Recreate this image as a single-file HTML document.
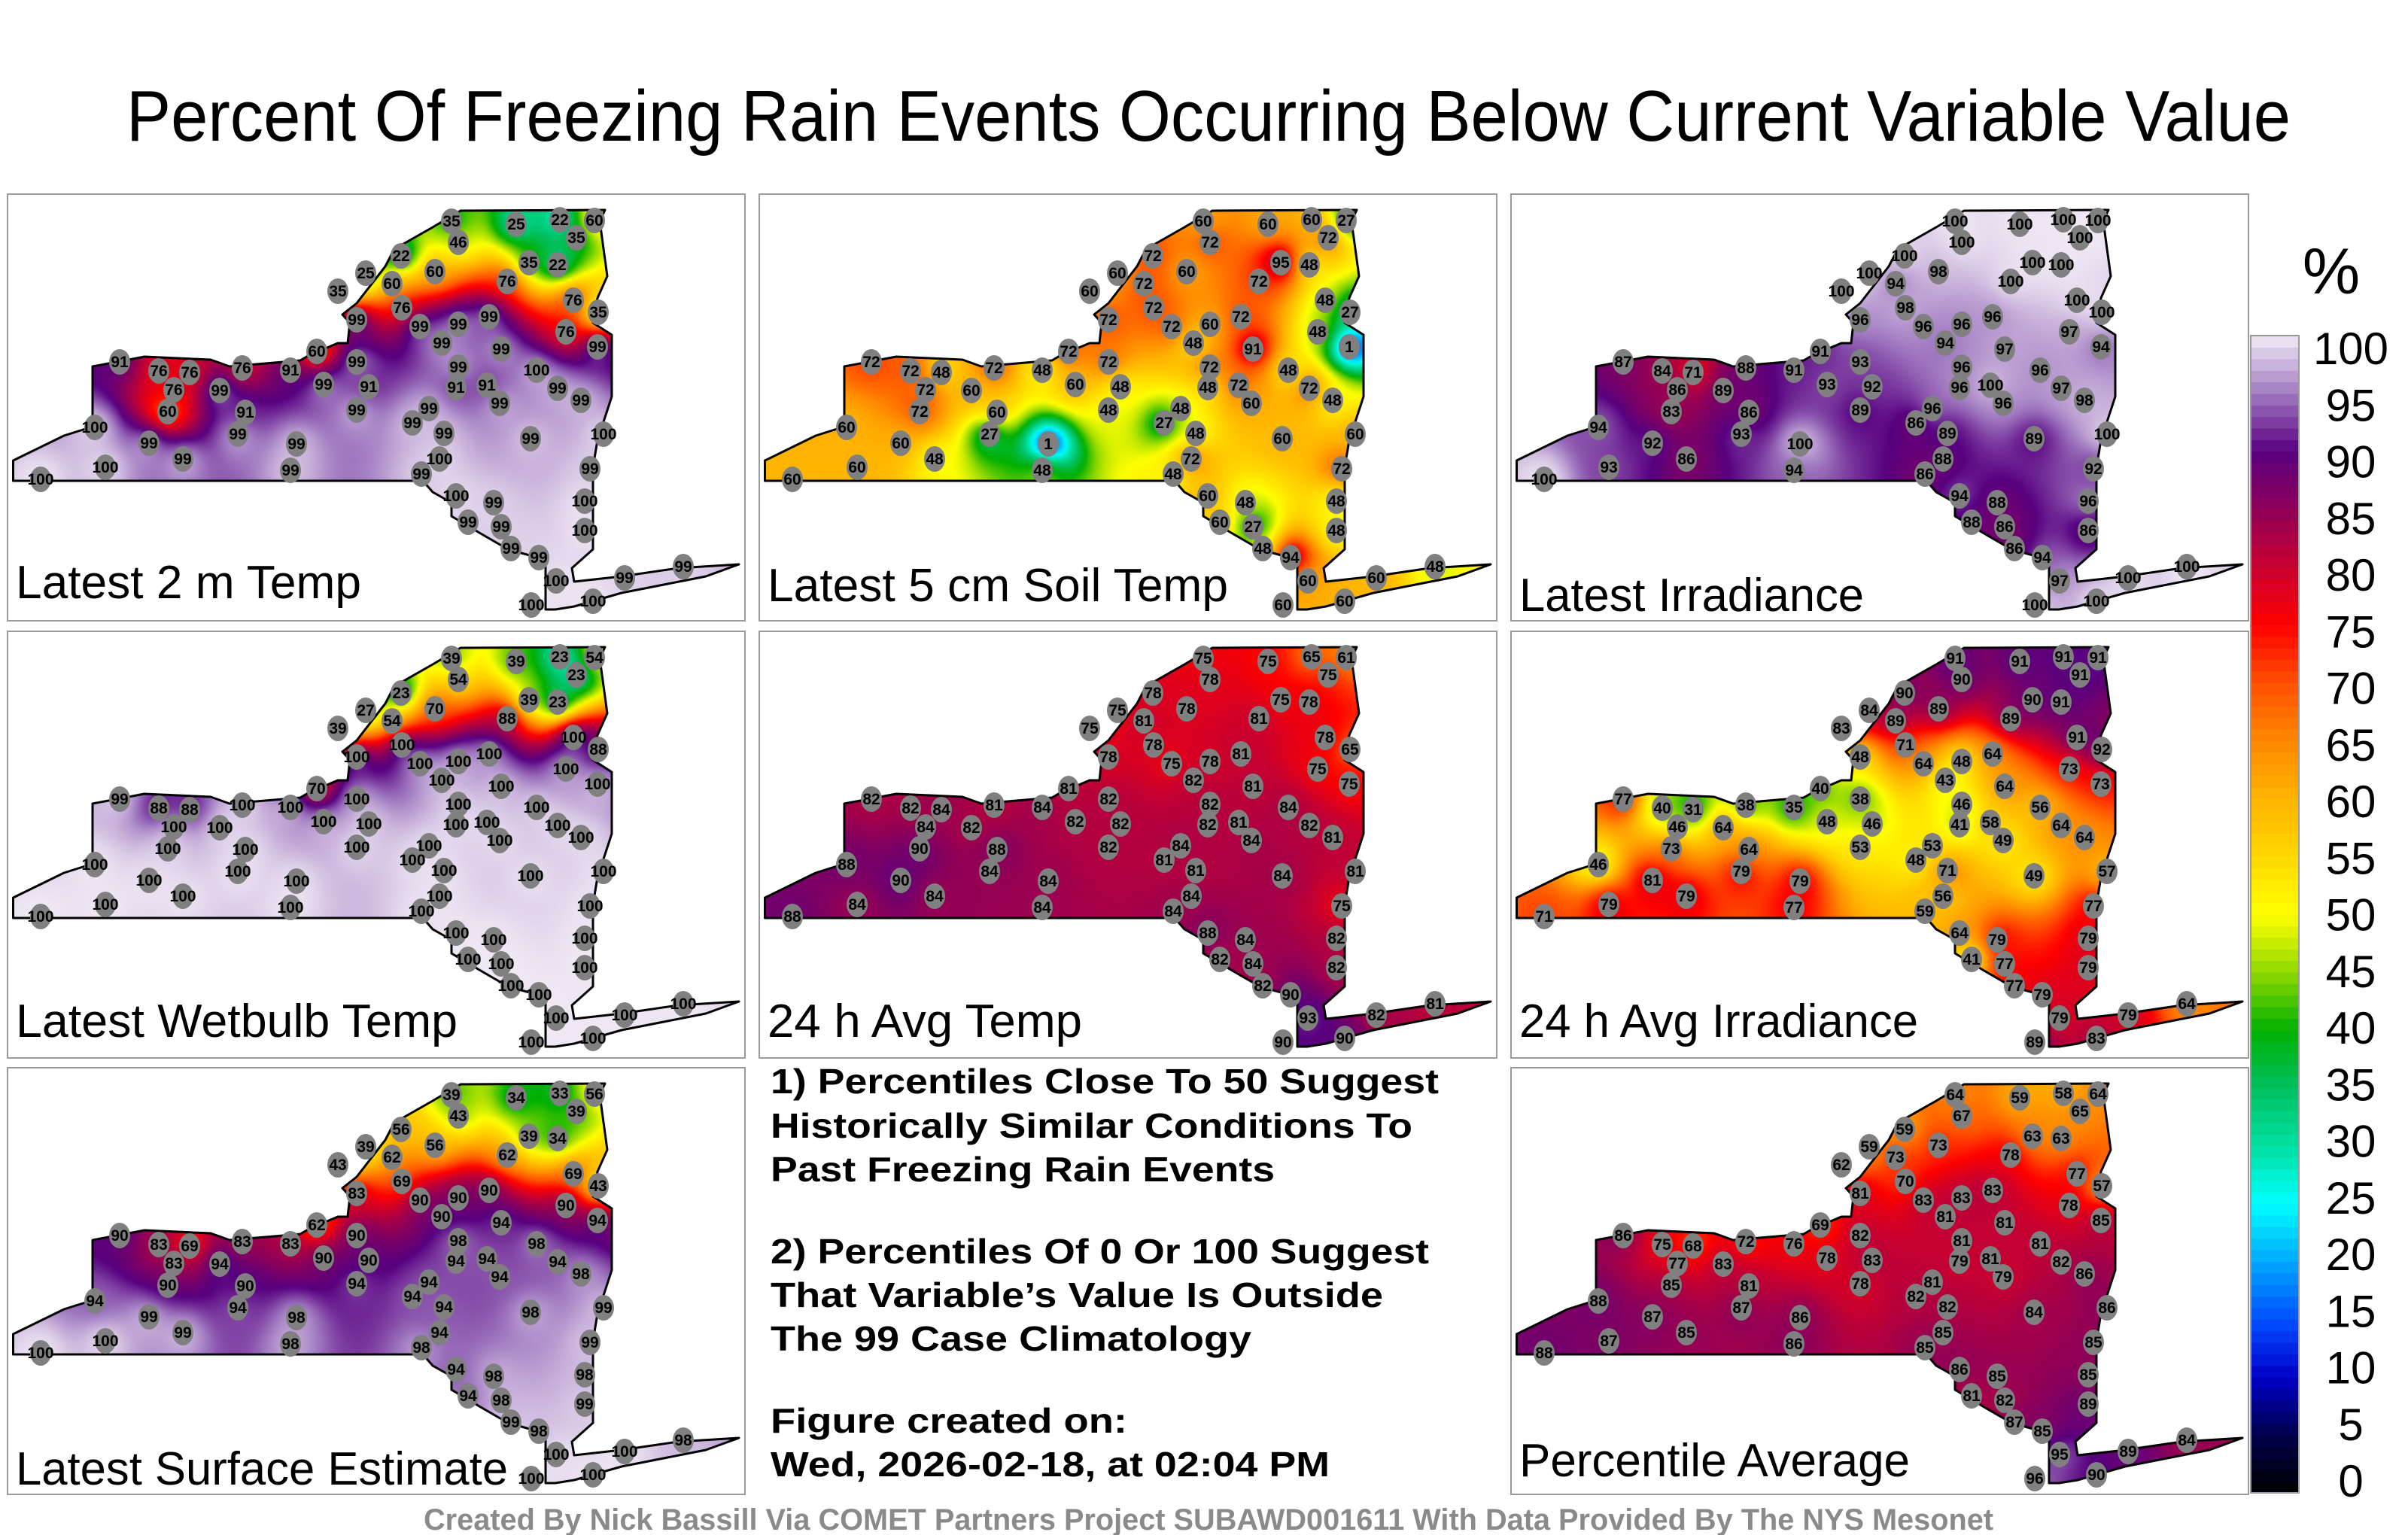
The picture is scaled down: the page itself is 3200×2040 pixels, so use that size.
<!DOCTYPE html>
<html><head><meta charset="utf-8">
<style>
html,body{margin:0;padding:0;background:#fff;}
body{width:3200px;height:2040px;position:relative;overflow:hidden;font-family:"Liberation Sans",sans-serif;}
canvas{position:absolute;}
#ov{position:absolute;left:0;top:0;}
</style></head>
<body>
<svg id="ov" width="3200" height="2040" viewBox="0 0 3200 2040">
<text x="1606" y="187" font-size="96" text-anchor="middle" textLength="2876" lengthAdjust="spacingAndGlyphs" font-family="Liberation Sans, sans-serif">Percent Of Freezing Rain Events Occurring Below Current Variable Value</text>
<g id="panels"></g>
<g font-family="Liberation Sans, sans-serif" font-weight="bold" font-size="46">
<text x="1024" y="1453" textLength="888" lengthAdjust="spacingAndGlyphs">1) Percentiles Close To 50 Suggest</text>
<text x="1024" y="1512" textLength="853" lengthAdjust="spacingAndGlyphs">Historically Similar Conditions To</text>
<text x="1024" y="1570" textLength="670" lengthAdjust="spacingAndGlyphs">Past Freezing Rain Events</text>
<text x="1024" y="1679" textLength="875" lengthAdjust="spacingAndGlyphs">2) Percentiles Of 0 Or 100 Suggest</text>
<text x="1024" y="1737" textLength="814" lengthAdjust="spacingAndGlyphs">That Variable’s Value Is Outside</text>
<text x="1024" y="1795" textLength="639" lengthAdjust="spacingAndGlyphs">The 99 Case Climatology</text>
<text x="1024" y="1904" textLength="474" lengthAdjust="spacingAndGlyphs">Figure created on:</text>
<text x="1024" y="1962" textLength="743" lengthAdjust="spacingAndGlyphs">Wed, 2026-02-18, at 02:04 PM</text>
</g>
<g id="cbar"></g>
<text x="3098" y="390" font-size="86" text-anchor="middle" font-family="Liberation Sans, sans-serif">%</text>
<text x="1606" y="2033" font-size="40" font-weight="bold" fill="#8a8a8a" text-anchor="middle" textLength="2086" lengthAdjust="spacingAndGlyphs" font-family="Liberation Sans, sans-serif">Created By Nick Bassill Via COMET Partners Project SUBAWD001611 With Data Provided By The NYS Mesonet</text>
</svg>
<script>
// station positions (panel-local coordinates of the map frame)
const stationX=[590,676,734,780,599,756,523,568,693,731,476,439,511,664,752,785,524,464,548,599,640,742,577,656,784,411,464,599,703,149,201,242,312,376,221,282,420,480,596,637,731,213,316,464,560,654,762,116,538,188,306,384,580,695,792,233,574,130,44,376,550,774,596,646,767,612,656,767,669,706,729,820,898,778,696];
const stationY=[36,40,34,35,64,58,82,103,91,94,105,129,119,116,141,157,151,167,176,173,163,183,198,206,203,209,223,230,234,223,235,237,231,234,260,261,253,256,257,254,258,289,290,287,285,278,274,310,304,331,319,332,318,325,319,352,352,363,379,367,372,365,401,410,408,436,442,447,471,483,514,510,495,541,546];
const valsTemp2m=[35,25,22,60,46,35,22,60,35,22,25,35,60,76,76,35,76,99,99,99,99,76,99,99,99,60,99,99,100,91,76,76,76,91,76,99,99,91,91,91,99,60,91,99,99,99,99,100,99,99,99,99,99,99,100,99,100,100,100,99,99,99,100,99,100,99,99,100,99,99,100,99,99,100,100];
const valsSoil=[60,60,60,27,72,72,72,60,95,48,60,60,72,72,48,27,72,72,72,60,72,48,48,91,1,72,72,72,48,72,72,48,72,48,72,60,60,48,48,72,72,72,60,48,48,60,48,60,27,60,27,1,48,60,60,48,72,60,60,48,48,72,60,48,48,60,27,48,48,94,60,60,48,60,60];
const valsIrr=[100,100,100,100,100,100,100,98,100,100,100,100,94,100,100,100,98,96,96,96,96,97,94,97,94,91,93,96,96,87,84,71,88,91,86,89,93,92,96,100,97,83,86,89,96,96,98,94,86,92,93,100,89,89,100,86,88,93,100,94,86,92,94,88,96,88,86,86,86,94,97,100,100,100,100];
const valsWetbulb=[39,39,23,54,54,23,23,70,39,23,27,39,54,88,100,88,100,100,100,100,100,100,100,100,100,70,100,100,100,99,88,88,100,100,100,100,100,100,100,100,100,100,100,100,100,100,100,100,100,100,100,100,100,100,100,100,100,100,100,100,100,100,100,100,100,100,100,100,100,100,100,100,100,100,100];
const valsAvgTemp=[75,75,65,61,78,75,78,78,75,78,75,75,81,81,78,65,78,78,75,78,81,75,82,81,75,81,82,82,84,82,82,84,81,84,84,82,82,82,82,81,82,90,88,82,84,84,81,88,81,90,84,84,81,84,81,84,84,84,88,84,84,75,88,84,82,82,84,82,82,90,93,82,81,90,90];
const valsAvgIrr=[91,91,91,91,90,91,90,89,90,91,84,83,89,89,91,92,71,48,64,48,64,73,43,64,73,40,38,46,56,77,40,31,38,35,46,64,48,46,41,58,64,73,64,53,53,49,64,46,48,81,79,79,71,49,57,79,56,79,71,77,59,77,64,79,79,41,77,79,77,79,79,79,64,83,89];
const valsSurface=[39,34,33,56,43,39,56,56,39,34,39,43,62,62,69,43,69,83,90,90,90,90,90,94,94,62,90,98,98,90,83,69,83,83,83,94,90,90,94,94,94,90,90,94,94,94,98,94,94,99,94,98,94,98,99,99,94,100,100,98,98,99,94,98,98,94,98,99,99,98,100,100,98,100,100];
const valsAverage=[64,59,58,64,67,65,59,73,63,63,59,62,73,78,77,57,70,81,83,83,83,78,81,81,85,69,82,81,81,86,75,68,72,76,77,83,78,83,79,81,82,85,81,78,81,79,86,88,82,87,87,86,82,84,86,85,85,87,88,86,85,85,86,85,85,81,82,89,87,85,95,89,84,90,96];
const panelTitles=["Latest 2 m Temp","Latest 5 cm Soil Temp","Latest Irradiance","Latest Wetbulb Temp","24 h Avg Temp","24 h Avg Irradiance","Latest Surface Estimate","Percentile Average"];
const cbarTicks=[0,5,10,15,20,25,30,35,40,45,50,55,60,65,70,75,80,85,90,95,100];

const panelVals=[valsTemp2m,valsSoil,valsIrr,valsWetbulb,valsAvgTemp,valsAvgIrr,valsSurface,valsAverage];
const panelNames=["panel-latest-2m-temp","panel-latest-soil-temp","panel-latest-irradiance","panel-latest-wetbulb","panel-24h-avg-temp","panel-24h-avg-irradiance","panel-latest-surface-estimate","panel-percentile-average"];
const colX=[10,1009,2008], rowY=[258,839,1419];
const slots=[[0,0],[1,0],[2,0],[0,1],[1,1],[2,1],[0,2],[2,2]];
const labelY=[537,541,554,539,539,539,554,543];
const labelW=[459,612,458,587,418,530,654,519];
const PW=980, PH=567;
const outline=[[7.5,381],[7.5,354],[75,321],[113,309],[113,250],[113,229],[182,216],[270,220],[295,229],[389,221],[401,214],[439,198],[452,198],[455,171],[445,160],[464,145],[502,96],[514,73],[565,44],[602,22],[794,21],[787,36],[797,109],[784,138],[778,171],[803,187],[803,269],[784,327],[778,363],[778,472],[750,497],[753,515],[816,508],[891,497],[972,492],[928,508],[816,530],[753,548],[728,552],[715,552],[715,486],[665,472],[627,450],[590,428],[590,410],[565,396],[552,381]];
const stops=[[0,[0,0,0]],[5,[0,0,74]],[10,[0,0,200]],[15,[0,80,255]],[20,[0,168,255]],[25,[0,255,255]],[30,[0,224,160]],[35,[0,192,96]],[40,[0,176,0]],[45,[144,216,0]],[50,[255,255,0]],[55,[255,216,0]],[60,[255,180,0]],[65,[255,136,0]],[70,[255,80,0]],[75,[255,0,0]],[80,[200,0,48]],[85,[144,0,88]],[90,[88,0,128]],[95,[160,120,192]],[100,[242,236,246]]];
function cmap(v){v=Math.max(0,Math.min(100,v));for(let i=1;i<stops.length;i++){if(v<=stops[i][0]){const a=stops[i-1],b=stops[i];const t=(v-a[0])/(b[0]-a[0]);return [0,1,2].map(k=>Math.round(a[1][k]+(b[1][k]-a[1][k])*t));}}return stops[stops.length-1][1];}
const NS="http://www.w3.org/2000/svg";
function mk(tag,attrs,parent){const e=document.createElementNS(NS,tag);for(const k in attrs)e.setAttribute(k,attrs[k]);parent.appendChild(e);return e;}
const panelsG=document.getElementById('panels');
const ptsStr=outline.map(p=>p.join(',')).join(' ');

panelVals.forEach((vals,pi)=>{
  const ox=colX[slots[pi][0]], oy=rowY[slots[pi][1]];
  const cv=document.createElement('canvas');
  
  
  cv.width=PW;cv.height=PH;cv.style.left=ox+'px';cv.style.top=oy+'px';
  document.body.insertBefore(cv,document.getElementById('ov'));
  const sc=4, W=Math.ceil(PW/sc), H=Math.ceil(PH/sc);
  const small=document.createElement('canvas');small.width=W;small.height=H;
  const sctx=small.getContext('2d');const img=sctx.createImageData(W,H);
  for(let j=0;j<H;j++)for(let i=0;i<W;i++){
    const x=i*sc+2,y=j*sc+2;let sw=0,sv=0;
    for(let s=0;s<stationX.length;s++){const dx=x-stationX[s],dy=y-stationY[s];const w=1/Math.pow(dx*dx+dy*dy+700,1.5);sw+=w;sv+=w*vals[s];}
    const c=cmap(sv/sw);const o=(j*W+i)*4;img.data[o]=c[0];img.data[o+1]=c[1];img.data[o+2]=c[2];img.data[o+3]=255;
  }
  sctx.putImageData(img,0,0);
  const ctx=cv.getContext('2d');
  ctx.save();ctx.beginPath();outline.forEach((p,k)=>k?ctx.lineTo(p[0],p[1]):ctx.moveTo(p[0],p[1]));ctx.closePath();ctx.clip();
  ctx.imageSmoothingEnabled=true;ctx.drawImage(small,0,0,W*sc,H*sc);ctx.restore();

  const g=mk('g',{transform:`translate(${ox},${oy})`},panelsG);
  
  
  const fr=mk('rect',{x:0,y:0,width:PW,height:PH,fill:'none',stroke:'#9a9a9a','stroke-width':2},g);
  
  
  const ol=mk('polygon',{points:ptsStr,fill:'none',stroke:'#000','stroke-width':3,'stroke-linejoin':'round'},g);
  
  
  stationX.forEach((sx,s)=>{
    const c=mk('ellipse',{cx:sx,cy:stationY[s],rx:14,ry:17,fill:'#808080'},g);
    
    
    const t=mk('text',{x:sx,y:stationY[s]+7,'text-anchor':'middle','font-size':21,'font-weight':'bold','font-family':'Liberation Sans, sans-serif'},g);
    
    
    t.textContent=vals[s];
  });
  const lb=mk('text',{x:11,y:labelY[pi],'font-size':62,textLength:labelW[pi],lengthAdjust:'spacingAndGlyphs','font-family':'Liberation Sans, sans-serif'},g);
  
  
  lb.textContent=panelTitles[pi];
});

// colorbar
const cb=document.getElementById('cbar');
const cbX=2991,cbW=64,cbTop=446,cbBot=1984;
const cy=v=>cbBot-(v/100)*(cbBot-cbTop);
for(let v=0;v<100;v++){
  const c=cmap(v+0.5);
  const r=mk('rect',{x:cbX,y:cy(v+1),width:cbW,height:cy(v)-cy(v+1)+0.6,fill:`rgb(${c[0]},${c[1]},${c[2]})`},cb);
  
  
}
const cbf=mk('rect',{x:cbX,y:cbTop,width:cbW,height:cbBot-cbTop,fill:'none',stroke:'#999','stroke-width':2},cb);


const tTop=463,tBot=1968;
cbarTicks.forEach(v=>{
  const t=mk('text',{x:3124,y:tBot-(v/100)*(tBot-tTop)+21,'text-anchor':'middle','font-size':60,'font-family':'Liberation Sans, sans-serif'},cb);
  
  
  t.textContent=v;
});
</script>
</body></html>
